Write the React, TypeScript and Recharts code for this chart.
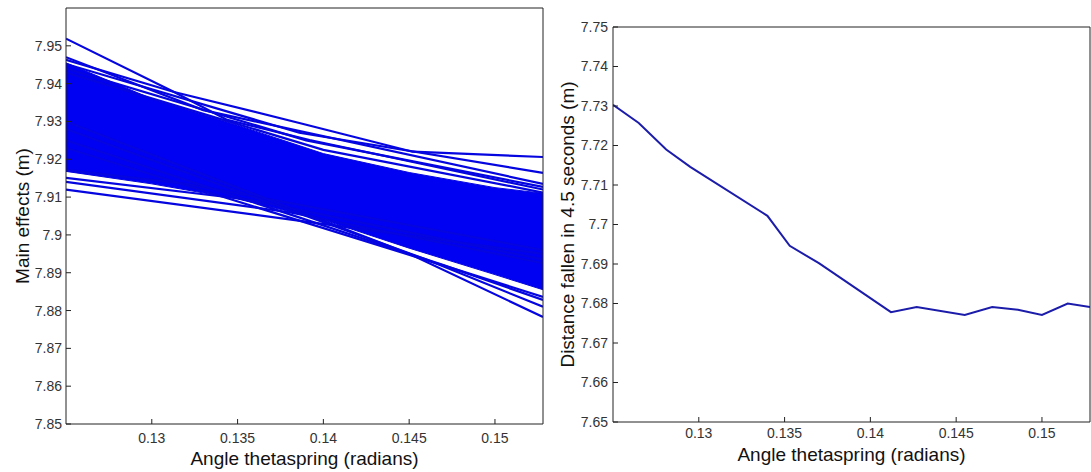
import { ComposedChart, Area, Line, XAxis, YAxis } from 'recharts'

// shared x axis (angle thetaspring, radians)
const angleDomain: [number, number] = [0.125, 0.1528]
const angleTicks = [0.13, 0.135, 0.14, 0.145, 0.15]

// left panel: main effects, dense band + visible strands
const effectTicks = [7.85, 7.86, 7.87, 7.88, 7.89, 7.9, 7.91, 7.92, 7.93, 7.94, 7.95]
const coreAngles = [0.125, 0.13, 0.135, 0.14, 0.145, 0.15, 0.1528]
const coreHigh = [7.9455, 7.936, 7.929, 7.9215, 7.9165, 7.9125, 7.911]
const coreLow = [7.9168, 7.9135, 7.9095, 7.904, 7.8965, 7.8895, 7.8855]

const upperStrands = [
  [[0.125, 7.9519], [0.1313, 7.9378], [0.1344, 7.9304], [0.1392, 7.9251], [0.1528, 7.912]],
  [[0.125, 7.9463], [0.1313, 7.9378], [0.1386, 7.9296], [0.1452, 7.922], [0.1528, 7.9206]],
  [[0.125, 7.9452], [0.1386, 7.927], [0.1528, 7.9164]],
  [[0.125, 7.944], [0.139, 7.925], [0.1528, 7.9127]],
  [[0.125, 7.9429], [0.14, 7.9225], [0.1528, 7.9112]],
  [[0.125, 7.947], [0.133, 7.933], [0.1528, 7.9135]],
]
const lowerStrands = [
  [[0.125, 7.912], [0.1392, 7.9034], [0.1528, 7.895]],
  [[0.125, 7.9151], [0.1357, 7.9093], [0.1528, 7.8935]],
  [[0.125, 7.914], [0.138, 7.906], [0.1528, 7.8925]],
  [[0.125, 7.9172], [0.132, 7.9135], [0.1528, 7.896]],
  [[0.125, 7.93], [0.145, 7.895], [0.1528, 7.8783]],
  [[0.125, 7.928], [0.146, 7.8935], [0.1528, 7.881]],
  [[0.125, 7.925], [0.147, 7.892], [0.1528, 7.8828]],
  [[0.125, 7.923], [0.148, 7.8905], [0.1528, 7.8836]],
]

// right panel: distance fallen in 4.5 s
const distanceTicks = [7.65, 7.66, 7.67, 7.68, 7.69, 7.7, 7.71, 7.72, 7.73, 7.74, 7.75]
const thetaValues = [0.125, 0.1265, 0.1281, 0.1295, 0.134, 0.1353, 0.137, 0.1412, 0.1427, 0.1455, 0.1471, 0.1486, 0.15, 0.1515, 0.1528]
const distanceValues = [7.7303, 7.7257, 7.719, 7.7146, 7.7022, 7.6946, 7.6902, 7.6778, 7.6791, 7.6771, 7.6791, 7.6784, 7.6771, 7.68, 7.6791]

const AXIS = '#222'
const TICK = { fill: '#333', fontSize: 14 }
const BLUE = '#0505e0'

const fmt = (v: number) => String(Number(v.toFixed(4)))

const coreRows = coreAngles.map((x, i) => ({ x, core: [coreLow[i], coreHigh[i]], lo: coreLow[i] }))
const strandRows = [...upperStrands, ...lowerStrands].map(s => s.map(([x, y]) => ({ x, y })))
const fallRows = thetaValues.map((x, i) => ({ x, d: distanceValues[i] }))

function MainEffects() {
  return (
    <ComposedChart width={560} height={472} data={coreRows} margin={{ top: 7, right: 16, bottom: 0, left: 0 }}>
      <XAxis dataKey="x" type="number" domain={angleDomain} ticks={angleTicks} allowDataOverflow interval={0}
        height={48} tickSize={-5} tickMargin={14} stroke={AXIS} tick={TICK} tickFormatter={fmt}
        label={{ value: 'Angle thetaspring (radians)', position: 'insideBottom', offset: 7, fill: '#111', fontSize: 19 }} />
      <XAxis xAxisId="top" dataKey="x" orientation="top" type="number" domain={angleDomain} ticks={angleTicks} allowDataOverflow
        interval={0} height={1} tickSize={-5} tick={false} stroke={AXIS} />
      <YAxis type="number" domain={[7.85, 7.96]} ticks={effectTicks} allowDataOverflow interval={0}
        width={66} tickSize={-5} tickMargin={9} stroke={AXIS} tick={TICK} tickFormatter={fmt}
        label={{ value: 'Main effects (m)', angle: -90, position: 'insideLeft', offset: 22, fill: '#111', fontSize: 19, style: { textAnchor: 'middle' } }} />
      <YAxis yAxisId="right" orientation="right" type="number" domain={[7.85, 7.96]} ticks={effectTicks}
        allowDataOverflow interval={0} width={1} tickSize={-5} tick={false} stroke={AXIS} />
      <Area dataKey="core" type="linear" stroke={BLUE} strokeWidth={1} fill="#0000f2" fillOpacity={1}
        isAnimationActive={false} dot={false} activeDot={false} />
      {strandRows.map((rows, i) => (
        <Line key={i} data={rows} dataKey="y" type="linear" stroke={BLUE} strokeWidth={2.2}
          dot={false} activeDot={false} isAnimationActive={false} />
      ))}
      {/* invisible series so the box axes (top / right) get drawn */}
      <Line xAxisId="top" yAxisId="right" dataKey="lo" stroke="none" dot={false} activeDot={false}
        isAnimationActive={false} legendType="none" />
    </ComposedChart>
  )
}

function DistanceFallen() {
  return (
    <ComposedChart width={546} height={472} data={fallRows} margin={{ top: 26, right: 0, bottom: 0, left: 0 }}>
      <XAxis dataKey="x" type="number" domain={angleDomain} ticks={angleTicks} allowDataOverflow interval={0}
        height={50} tickSize={-5} tickMargin={11} stroke={AXIS} tick={TICK} tickFormatter={fmt}
        label={{ value: 'Angle thetaspring (radians)', position: 'insideBottom', offset: 11, fill: '#111', fontSize: 19 }} />
      <XAxis xAxisId="top" dataKey="x" orientation="top" type="number" domain={angleDomain} ticks={angleTicks} allowDataOverflow
        interval={0} height={1} tickSize={-5} tick={false} stroke={AXIS} />
      <YAxis type="number" domain={[7.65, 7.75]} ticks={distanceTicks} allowDataOverflow interval={0}
        width={68} tickSize={-5} tickMargin={10} stroke={AXIS} tick={TICK} tickFormatter={fmt}
        label={{ value: 'Distance fallen in 4.5 seconds  (m)', angle: -90, position: 'insideLeft', offset: 22, fill: '#111', fontSize: 19, style: { textAnchor: 'middle', whiteSpace: 'pre' } }} />
      <YAxis yAxisId="right" orientation="right" type="number" domain={[7.65, 7.75]} ticks={distanceTicks}
        allowDataOverflow interval={0} width={1} tickSize={-5} tick={false} stroke={AXIS} />
      <Line dataKey="d" type="linear" stroke="#1c1caa" strokeWidth={2} dot={false} activeDot={false}
        isAnimationActive={false} />
      <Line xAxisId="top" yAxisId="right" dataKey="d" stroke="none" dot={false} activeDot={false}
        isAnimationActive={false} legendType="none" />
    </ComposedChart>
  )
}

export default function App() {
  return (
    <div style={{ position: 'absolute', left: 0, top: 0, width: 1091, height: 472, background: '#fff', fontFamily: '"Liberation Sans", Arial, sans-serif', overflow: 'hidden' }}>
      <div style={{ position: 'absolute', left: 0, top: 0 }}>
        <MainEffects />
      </div>
      <div style={{ position: 'absolute', left: 545, top: 0 }}>
        <DistanceFallen />
      </div>
    </div>
  )
}
